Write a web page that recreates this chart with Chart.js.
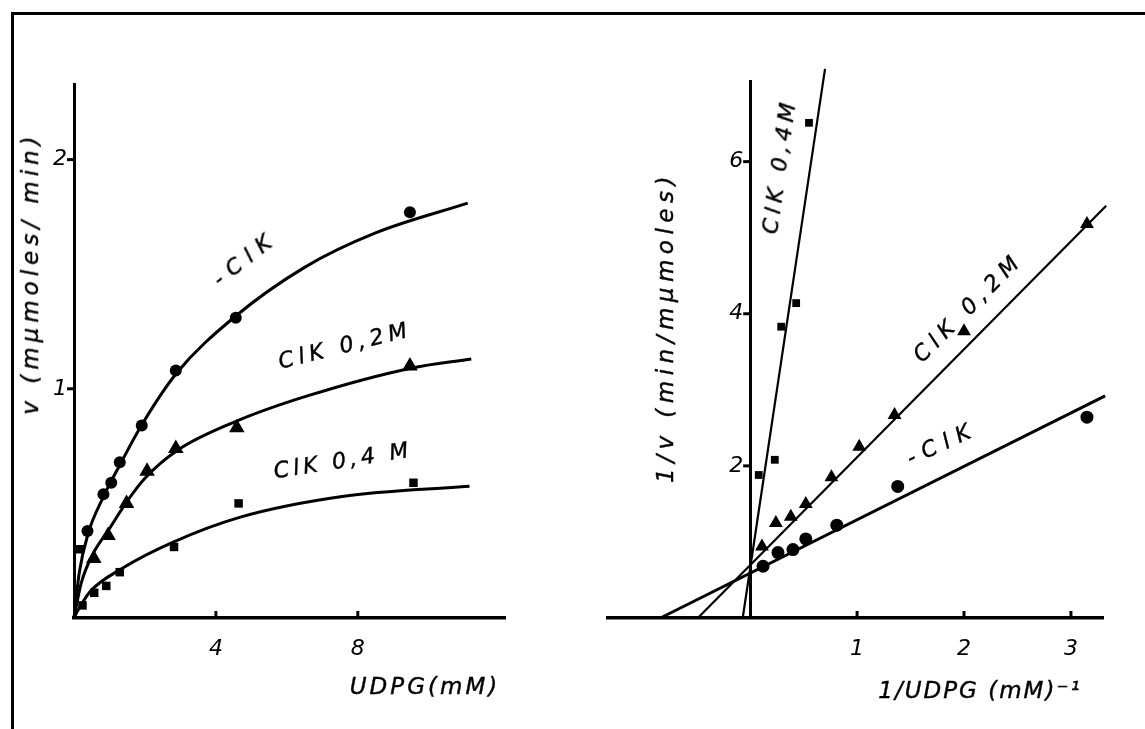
<!DOCTYPE html>
<html>
<head>
<meta charset="utf-8">
<script src="https://cdn.jsdelivr.net/npm/chart.js@4"></script>
<style>
  html, body { margin: 0; padding: 0; background: #fff; }
  body { width: 1145px; height: 729px; position: relative; overflow: hidden; }
  .frame-top { position: absolute; left: 12px; top: 12px; width: 1133px; height: 3px; background: #000; }
  .frame-left { position: absolute; left: 11px; top: 12px; width: 3px; height: 717px; background: #000; }
  .panel { position: absolute; top: 0; height: 729px; }
  .lbl {
    position: absolute; white-space: nowrap; color: #000;
    font-family: "DejaVu Sans", sans-serif; font-style: italic; font-size: 22px;
    letter-spacing: 4px; transform-origin: center center;
    -webkit-text-stroke: 0.4px #000;
  }
  .title { font-size: 23px; }
</style>
</head>
<body>
<div class="frame-top"></div>
<div class="frame-left"></div>
<div class="panel" style="left:0;width:570px"><canvas id="left" width="570" height="729"></canvas></div>
<div class="panel" style="left:570px;width:575px"><canvas id="right" width="575" height="729"></canvas></div>

<!-- axis titles -->
<div class="lbl title" id="t-left-y">v (mμmoles/ min)</div>
<div class="lbl title" id="t-left-x">UDPG(mM)</div>
<div class="lbl title" id="t-right-y">1/v (min/mμmoles)</div>
<div class="lbl title" id="t-right-x">1/UDPG (mM)⁻¹</div>

<!-- curve labels -->
<div class="lbl" id="a1">-ClK</div>
<div class="lbl" id="a2">ClK 0,2M</div>
<div class="lbl" id="a3">ClK 0,4 M</div>
<div class="lbl" id="a4">ClK 0,4M</div>
<div class="lbl" id="a5">ClK 0,2M</div>
<div class="lbl" id="a6">-ClK</div>

<script>
// --- LEFT PANEL: v against UDPG (mM) ---
const udpgNoKCl = [0.38, 0.83, 1.05, 1.29, 1.91, 2.87, 4.56, 9.47];
const vNoKCl    = [0.38, 0.54, 0.59, 0.68, 0.84, 1.08, 1.31, 1.77];
const udpgKCl02 = [0.56, 0.96, 1.48, 2.06, 2.87, 4.59, 9.47];
const vKCl02    = [0.26, 0.36, 0.50, 0.64, 0.74, 0.83, 1.10];
const udpgKCl04 = [0.17, 0.24, 0.57, 0.91, 1.29, 2.82, 4.64, 9.57];
const vKCl04    = [0.30, 0.055, 0.11, 0.14, 0.20, 0.31, 0.50, 0.59];

// hand drawn curves
const curveNoKClX = [0, 0.15, 0.4, 0.8, 1.3, 1.9, 2.9, 4.5, 6.5, 8.5, 11.1];
const curveNoKClY = [0, 0.2, 0.37, 0.52, 0.67, 0.84, 1.07, 1.31, 1.53, 1.68, 1.81];
const curveKCl02X = [0, 0.2, 0.5, 1.0, 1.5, 2.0, 2.9, 4.6, 6.6, 9.5, 11.2];
const curveKCl02Y = [0, 0.15, 0.27, 0.39, 0.51, 0.61, 0.73, 0.86, 0.97, 1.09, 1.13];
const curveKCl04X = [0, 0.1, 0.25, 0.48, 1.34, 2.78, 4.69, 7.56, 11.15];
const curveKCl04Y = [0, 0.03, 0.07, 0.12, 0.215, 0.33, 0.44, 0.53, 0.575];

const leftXTicks = [4, 8];
const leftYTicks = [1, 2];

// --- RIGHT PANEL: 1/v against 1/UDPG ---
const invSNoKCl = [0.12, 0.26, 0.40, 0.52, 0.81, 1.38, 3.15];
const invVNoKCl = [0.68, 0.86, 0.90, 1.04, 1.22, 1.73, 2.64];
const invSKCl02 = [0.11, 0.24, 0.38, 0.52, 0.76, 1.02, 1.35, 2.00, 3.15];
const invVKCl02 = [0.94, 1.25, 1.33, 1.50, 1.85, 2.25, 2.67, 3.77, 5.18];
const invSKCl04 = [0.08, 0.23, 0.29, 0.43, 0.55];
const invVKCl04 = [1.88, 2.08, 3.83, 4.14, 6.51];

const lineNoKClX = [-0.84, 3.32];
const lineNoKClY = [0, 2.92];
const lineKCl02X = [-0.49, 3.33];
const lineKCl02Y = [0, 5.42];
const lineKCl04X = [-0.07, 0.70];
const lineKCl04Y = [0, 7.22];

const rightXTicks = [1, 2, 3];
const rightYTicks = [2, 4, 6];

const pts = (xs, ys) => xs.map((x, i) => ({ x, y: ys[i] }));
const tickFont = { family: 'DejaVu Sans', style: 'italic', size: 22 };

function markers(xs, ys, style, r) {
  return { data: pts(xs, ys), showLine: false, pointStyle: style, pointRadius: r,
           backgroundColor: '#000', borderColor: '#000', borderWidth: 0, clip: false };
}
function curve(xs, ys, w, smooth) {
  return { data: pts(xs, ys), showLine: true, pointRadius: 0, borderColor: '#000',
           borderWidth: w, cubicInterpolationMode: smooth ? 'monotone' : 'default', clip: false };
}

// tick marks: x ticks point up into the plot, y ticks point left
const handTicks = {
  id: 'handTicks',
  afterDraw(chart) {
    const { ctx, scales: { x, y } } = chart;
    const baseY = y.getPixelForValue(0);
    const baseX = x.getPixelForValue(0);
    ctx.save();
    ctx.strokeStyle = '#000';
    ctx.lineWidth = 3;
    x.ticks.forEach(t => {
      const px = x.getPixelForValue(t.value);
      ctx.beginPath();
      ctx.moveTo(px, baseY);
      ctx.lineTo(px, baseY - 7);
      ctx.stroke();
    });
    y.ticks.forEach(t => {
      const py = y.getPixelForValue(t.value);
      ctx.beginPath();
      ctx.moveTo(baseX, py);
      ctx.lineTo(baseX - 7, py);
      ctx.stroke();
    });
    ctx.restore();
  }
};

function makeOptions(xr, yr, xt, yt, pad) {
  return {
    responsive: false,
    animation: false,
    devicePixelRatio: 1,
    layout: { padding: pad },
    plugins: { legend: { display: false }, tooltip: { enabled: false } },
    scales: {
      x: {
        type: 'linear', position: { y: 0 }, min: xr[0], max: xr[1],
        afterBuildTicks: (a) => { a.ticks = xt.map(v => ({ value: v })); },
        grid: { display: false },
        border: { display: true, color: '#000', width: 3.5 },
        ticks: { color: '#000', font: tickFont, padding: 10, maxRotation: 0 }
      },
      y: {
        type: 'linear', position: { x: 0 }, min: yr[0], max: yr[1],
        afterBuildTicks: (a) => { a.ticks = yt.map(v => ({ value: v })); },
        grid: { display: false },
        border: { display: true, color: '#000', width: 3 },
        // trailing space leaves room for the little tick mark
        ticks: { color: '#000', font: tickFont, callback: v => v + ' ' }
      }
    }
  };
}

// left chart: area x 74..505, y 84..618
new Chart(document.getElementById('left'), {
  type: 'scatter',
  data: {
    datasets: [
      curve(curveNoKClX, curveNoKClY, 3, true),
      curve(curveKCl02X, curveKCl02Y, 3, true),
      curve(curveKCl04X, curveKCl04Y, 3, true),
      markers(udpgNoKCl, vNoKCl, 'circle', 6),
      markers(udpgKCl02, vKCl02, 'triangle', 9),
      markers(udpgKCl04, vKCl04, 'rect', 6)
    ]
  },
  options: makeOptions([0, 12.15], [0, 2.33], leftXTicks, leftYTicks,
                       { left: 74, top: 84, right: 65, bottom: 111 }),
  plugins: [handTicks]
});

// right chart: area x 608..1103, y 81..618 (canvas starts at 570)
new Chart(document.getElementById('right'), {
  type: 'scatter',
  data: {
    datasets: [
      curve(lineNoKClX, lineNoKClY, 3, false),
      curve(lineKCl02X, lineKCl02Y, 2.2, false),
      curve(lineKCl04X, lineKCl04Y, 2.2, false),
      markers(invSNoKCl, invVNoKCl, 'circle', 6.5),
      markers(invSKCl02, invVKCl02, 'triangle', 8),
      markers(invSKCl04, invVKCl04, 'rect', 5.5)
    ]
  },
  options: makeOptions([-1.33, 3.3], [0, 7.06], rightXTicks, rightYTicks,
                       { left: 38, top: 81, right: 42, bottom: 111 }),
  plugins: [handTicks]
});

// text placement: centre x, centre y, angle, letter spacing
function place(id, cx, cy, deg, spacing) {
  const el = document.getElementById(id);
  if (spacing !== undefined) el.style.letterSpacing = spacing + 'px';
  el.style.left = cx + 'px';
  el.style.top = cy + 'px';
  el.style.transform = `translate(-50%, -50%) rotate(${deg}deg)`;
}
place('t-left-y', 30, 273, -90, 5);
place('t-left-x', 425, 686, 0, 3);
place('t-right-y', 665, 327, -90, 5.5);
place('t-right-x', 980, 690, 0, 2);

place('a1', 245, 258, -38, 8);
place('a2', 345, 345, -14, 5);
place('a3', 343, 460, -9, 4);
place('a4', 779, 166, -82, 5);
place('a5', 968, 307, -45, 6);
place('a6', 942, 443, -25, 8);
</script>
</body>
</html>
